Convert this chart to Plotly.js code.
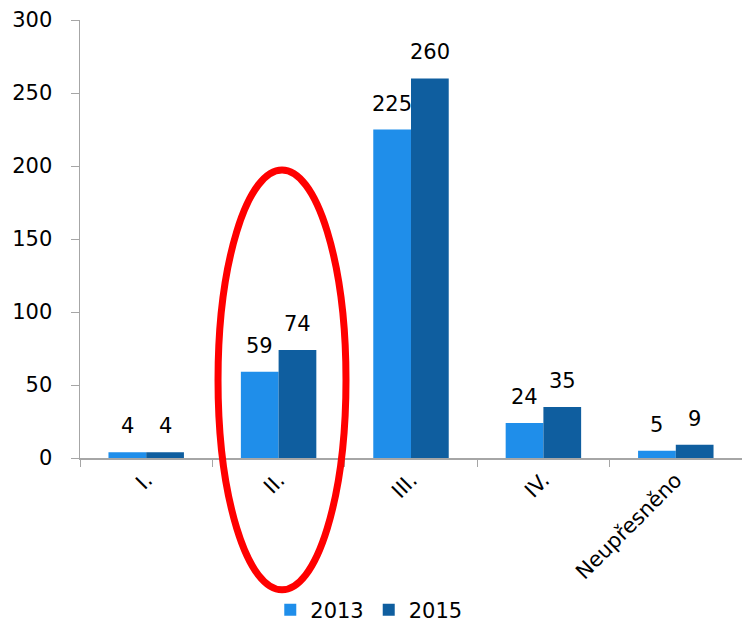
<!DOCTYPE html>
<html>
<head>
<meta charset="utf-8">
<script src="https://cdn.plot.ly/plotly-3.0.1.min.js"></script>
<style>html,body{margin:0;padding:0;background:#fff}#chart{width:742px;height:622px}</style>
</head>
<body>
<div id="chart"></div>
<script>
const categories = ["I.", "II.", "III.", "IV.", "Neupřesněno"];
const seriesNames = ["2013", "2015"];
const values2013 = [4, 59, 225, 24, 5];
const values2015 = [4, 74, 260, 35, 9];
const yTicks = [0, 50, 100, 150, 200, 250, 300];

const font = {family: "DejaVu Sans, Verdana, sans-serif", size: 21, color: "#000"};

const traces = [
  {type: "bar", name: seriesNames[0], x: categories, y: values2013,
   marker: {color: "#1F8EEA"}},
  {type: "bar", name: seriesNames[1], x: categories, y: values2015,
   marker: {color: "#0F5E9F"}}
];

const annotations = [];
[values2013, values2015].forEach((vals, s) => {
  vals.forEach((v, i) => {
    annotations.push({
      x: categories[i], y: v, xref: "x", yref: "y",
      text: String(v), showarrow: false, font: font,
      xanchor: "center", yanchor: "bottom",
      xshift: s === 0 ? -19 : 19, yshift: 12
    });
  });
});

const layout = {
  width: 742, height: 622,
  margin: {l: 80, r: 0, t: 20, b: 164},
  paper_bgcolor: "#fff", plot_bgcolor: "#fff",
  font: font,
  barmode: "group", bargap: 0.43, bargroupgap: 0,
  xaxis: {
    type: "category", showline: true, linecolor: "#A6A6A6", linewidth: 1.5,
    ticks: "outside", tickson: "boundaries", ticklen: 7, tickcolor: "#A6A6A6",
    tickangle: -45, tickfont: font, showgrid: false, zeroline: false,
    automargin: false
  },
  yaxis: {
    range: [0, 300], tickvals: yTicks, ticktext: yTicks.map(String),
    showline: true, linecolor: "#A6A6A6", linewidth: 1.5,
    ticks: "outside", ticklen: 8, tickcolor: "#A6A6A6", tickfont: font,
    ticklabelstandoff: 14, automargin: false,
    showgrid: false, zeroline: false
  },
  showlegend: true,
  legend: {orientation: "h", xref: "container", yref: "container",
           x: 0.497, xanchor: "center", y: 0.019, yanchor: "middle",
           font: font, itemwidth: 30, traceorder: "normal", bgcolor: "rgba(0,0,0,0)"},
  annotations: annotations,
  shapes: [{
    type: "circle", xref: "paper", yref: "paper",
    x0: 0.2085, x1: 0.4018, y0: -0.301, y1: 0.6575,
    line: {color: "#FF0000", width: 7}, layer: "above"
  }]
};

Plotly.newPlot("chart", traces, layout, {displayModeBar: false, staticPlot: true});
</script>
</body>
</html>
